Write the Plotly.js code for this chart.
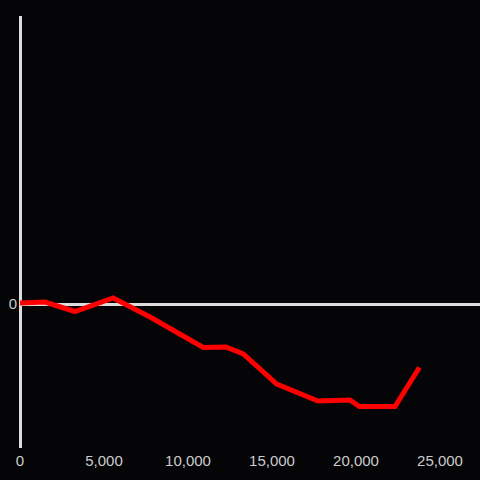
<!DOCTYPE html>
<html>
<head>
<meta charset="utf-8">
<script src="https://cdn.plot.ly/plotly-3.0.1.min.js"></script>
<style>html,body{margin:0;padding:0;background:#050407;}#chart{width:480px;height:480px;}</style>
</head>
<body>
<div id="chart"></div>
<script>
const xValues = [0, 1490, 3270, 5550, 7740, 10910, 12260, 13290, 15280, 17740, 19640, 20200, 22320, 23770];
const yValues = [1, 2, -7.5, 6, -13, -43.5, -43, -50, -80, -97, -96, -102.5, -102.5, -63.5];
const xTickVals = [0, 5000, 10000, 15000, 20000, 25000];
const xTickText = ['0', '5,000', '10,000', '15,000', '20,000', '25,000'];

const trace = {
  x: xValues,
  y: yValues,
  type: 'scatter',
  mode: 'lines',
  line: {color: '#ff0000', width: 5},
  hoverinfo: 'none'
};

const layout = {
  width: 480,
  height: 480,
  paper_bgcolor: '#050407',
  plot_bgcolor: '#050407',
  margin: {l: 20, r: 0, t: 16, b: 32},
  showlegend: false,
  font: {family: 'Liberation Sans, Arial, sans-serif', color: '#cccccc', size: 15},
  xaxis: {
    range: [0, 27380],
    showgrid: false,
    zeroline: true,
    zerolinecolor: '#dddddd',
    zerolinewidth: 3,
    showline: false,
    tickmode: 'array',
    tickvals: xTickVals,
    ticktext: xTickText,
    ticks: '',
    ticklabelstandoff: 2,
    tickfont: {size: 15, color: '#cccccc'}
  },
  yaxis: {
    range: [-144, 288],
    showgrid: false,
    zeroline: true,
    zerolinecolor: '#dddddd',
    zerolinewidth: 3,
    showline: false,
    tickmode: 'array',
    tickvals: [0],
    ticktext: ['0'],
    ticks: '',
    ticklabelstandoff: 2,
    tickfont: {size: 15, color: '#cccccc'}
  }
};

Plotly.newPlot('chart', [trace], layout, {displayModeBar: false, staticPlot: true});
</script>
</body>
</html>
